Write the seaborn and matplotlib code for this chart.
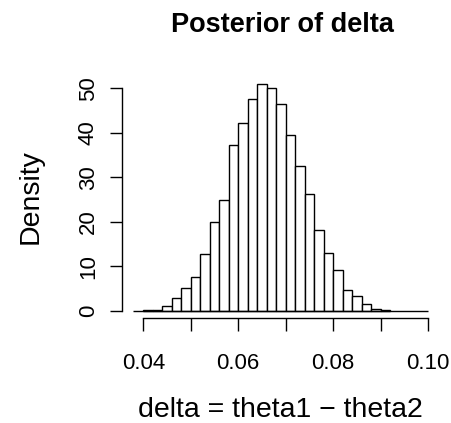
import numpy as np
import matplotlib
matplotlib.use("Agg")
import matplotlib.pyplot as plt
import seaborn as sns

# ------------------------------------------------------------------
# histogram values (density per 0.002 bin)
# ------------------------------------------------------------------
bin_left = [0.040, 0.042, 0.044, 0.046, 0.048, 0.050, 0.052, 0.054, 0.056,
            0.058, 0.060, 0.062, 0.064, 0.066, 0.068, 0.070, 0.072, 0.074,
            0.076, 0.078, 0.080, 0.082, 0.084, 0.086, 0.088, 0.090]
density = [0.2, 0.2, 1.1, 2.8, 5.0, 7.5, 12.7, 19.9, 25.0,
           37.3, 42.1, 47.5, 50.9, 50.1, 46.4, 39.5, 32.6, 26.3,
           18.1, 13.0, 9.2, 4.6, 3.3, 1.5, 0.3, 0.2]
bin_width = 0.002
x_ticks = [0.04, 0.05, 0.06, 0.07, 0.08, 0.09, 0.10]
x_ticklabels = ["0.04", "", "0.06", "", "0.08", "", "0.10"]
y_ticks = [0, 10, 20, 30, 40, 50]

sns.set_style("white")
plt.rcParams['font.family'] = ['Liberation Sans', 'DejaVu Sans']
plt.rcParams['text.color'] = 'black'

W, H = 451, 423
fig = plt.figure(figsize=(W / 100, H / 100), dpi=100)
# plot region in pixels: left 121.7, right 440, top 75, bottom 318
ax = fig.add_axes([121.7 / W, (H - 318) / H, (440 - 121.7) / W, (318 - 75) / H])

centers = [b + bin_width / 2 for b in bin_left]
edges = [round(b, 3) for b in bin_left] + [round(bin_left[-1] + bin_width, 3)]
sns.histplot(x=centers, weights=density, bins=edges, stat="count",
             color="white", edgecolor="black", linewidth=1.0, alpha=1,
             ax=ax)
ax.hlines(0, 0.0379, 0.100, color="black", linewidth=1.0)

ax.set_xlim(0.03545, 0.1025)
ax.set_ylim(-1.64, 53)

for s in ["top", "right"]:
    ax.spines[s].set_visible(False)
for s in ["left", "bottom"]:
    ax.spines[s].set_color("black")
    ax.spines[s].set_linewidth(1.0)
ax.spines["bottom"].set_bounds(0.04, 0.10)
ax.spines["left"].set_bounds(0, 50)

ax.set_xticks(x_ticks)
ax.set_xticklabels(x_ticklabels)
ax.set_yticks(y_ticks)
ax.set_yticklabels([str(v) for v in y_ticks], rotation=90, va="center")
ax.tick_params(axis="both", direction="out", length=9, width=1.0,
               color="black", labelsize=16, labelcolor="black",
               bottom=True, left=True)
ax.tick_params(axis="x", pad=16.5)
ax.tick_params(axis="y", pad=7.4)
ax.set_xlabel("")
ax.set_ylabel("")

# axis titles and main title, placed by their baselines
fig.text(280.5 / W, 1 - 416.5 / H, "delta = theta1 \u2212 theta2",
         ha="center", va="baseline", fontsize=20.5)
fig.text(38 / W, 1 - 196.5 / H, "Density", rotation=90, rotation_mode="anchor",
         ha="center", va="baseline", fontsize=20.5)
fig.text(282 / W, 1 - 32 / H, "Posterior of delta", ha="center", va="baseline",
         fontsize=19.5, fontweight="bold")

fig.savefig("out.png", dpi=100, facecolor="white")
